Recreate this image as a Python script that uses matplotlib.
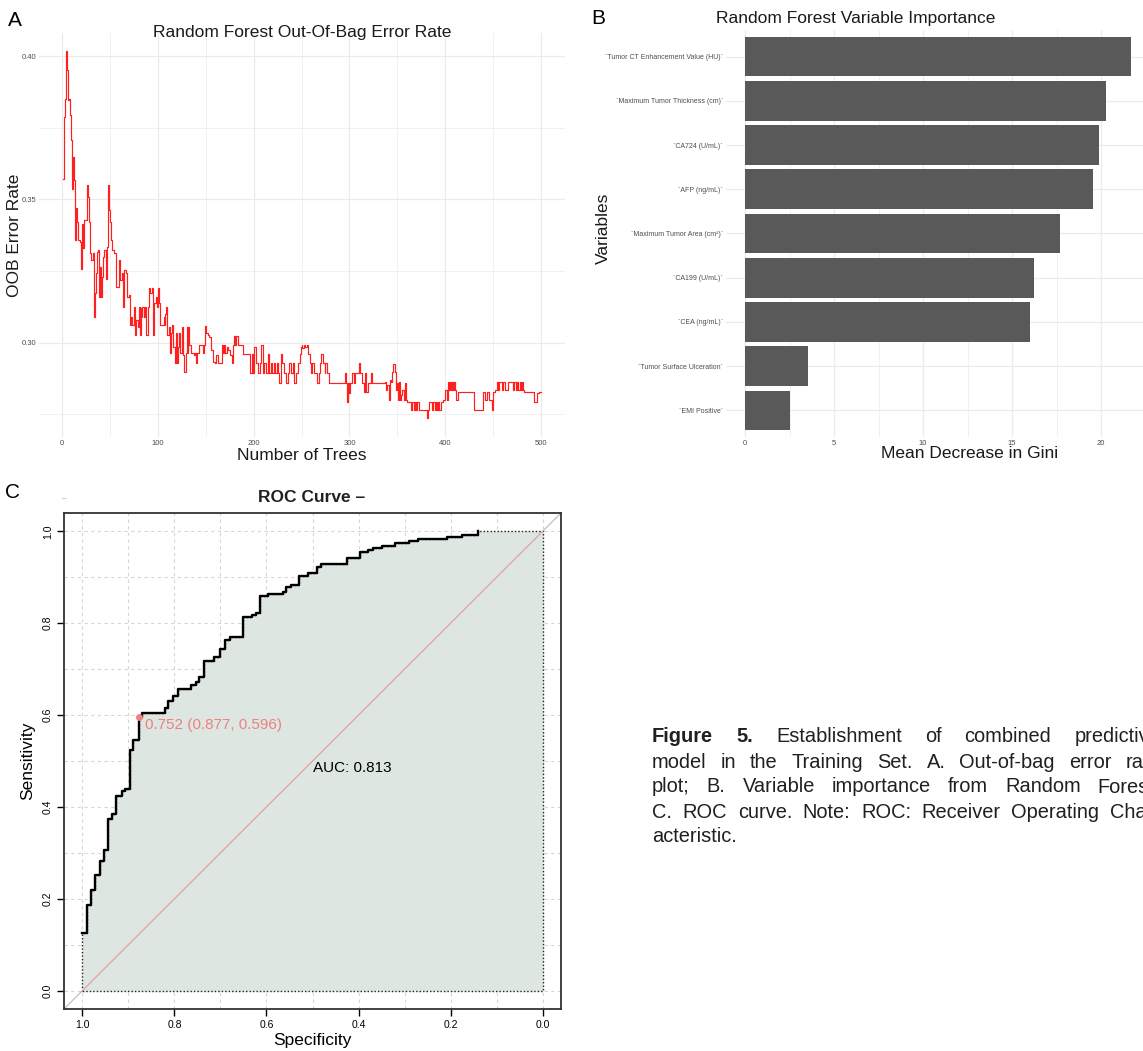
import numpy as np
import matplotlib
matplotlib.use("Agg")
import matplotlib.pyplot as plt

plt.rcParams['font.family'] = ['Liberation Sans', 'DejaVu Sans']

# A. out-of-bag error rate (tree number, error)
oob_trees = [1, 2, 3, 4, 5, 6, 7, 8, 9, 10, 11, 12, 13, 14, 15, 16, 17, 19, 20, 21,
             22, 23, 24, 26, 27, 28, 29, 30, 32, 33, 34, 36, 37, 38, 39, 40, 41, 42, 43, 44,
             46, 47, 48, 49, 50, 51, 52, 53, 54, 56, 58, 59, 60, 61, 63, 64, 65, 67, 68, 70,
             71, 72, 73, 75, 76, 77, 79, 80, 81, 82, 83, 84, 86, 87, 88, 90, 91, 92, 94, 95,
             96, 98, 99, 100, 101, 102, 104, 106, 107, 108, 109, 110, 112, 113, 114, 115, 116, 118, 119, 120,
             121, 122, 123, 125, 126, 127, 129, 130, 131, 132, 133, 135, 136, 138, 139, 140, 141, 143, 145, 147,
             148, 149, 150, 152, 153, 156, 158, 160, 161, 163, 165, 167, 168, 169, 170, 172, 173, 175, 177, 179,
             180, 181, 182, 184, 187, 189, 194, 196, 198, 199, 200, 202, 203, 205, 207, 208, 210, 211, 213, 215,
             216, 218, 219, 221, 222, 224, 225, 227, 229, 230, 232, 234, 236, 237, 239, 241, 242, 244, 246, 248,
             249, 250, 251, 253, 254, 256, 257, 259, 260, 261, 263, 265, 266, 268, 269, 270, 272, 274, 275, 277,
             279, 294, 295, 296, 297, 298, 300, 301, 303, 305, 306, 308, 310, 311, 313, 315, 316, 317, 319, 321,
             322, 324, 337, 338, 339, 341, 342, 343, 344, 346, 347, 348, 349, 350, 351, 352, 353, 354, 355, 357,
             358, 359, 360, 363, 364, 365, 367, 368, 369, 371, 373, 375, 380, 381, 382, 383, 384, 386, 387, 389,
             390, 391, 392, 394, 396, 398, 399, 400, 402, 403, 404, 405, 406, 407, 408, 409, 410, 411, 412, 413,
             429, 430, 437, 439, 441, 442, 444, 446, 448, 449, 450, 452, 454, 455, 456, 458, 459, 460, 462, 464,
             465, 470, 471, 472, 474, 475, 476, 478, 479, 480, 481, 482, 492, 493, 495, 496, 498, 500]
oob_error = [0.3573, 0.3788, 0.3850, 0.4017, 0.3951, 0.3847, 0.3852, 0.3794, 0.3707, 0.3538,
             0.3637, 0.3649, 0.3567, 0.3358, 0.3469, 0.3422, 0.3358, 0.3352, 0.3259, 0.3416,
             0.3329, 0.3428, 0.3428, 0.3550, 0.3509, 0.3422, 0.3312, 0.3288, 0.3312, 0.3091,
             0.3172, 0.3242, 0.3317, 0.3323, 0.3160, 0.3265, 0.3160, 0.3230, 0.3300, 0.3323,
             0.3224, 0.3335, 0.3550, 0.3463, 0.3422, 0.3358, 0.3323, 0.3323, 0.3312, 0.3195,
             0.3195, 0.3265, 0.3288, 0.3219, 0.3242, 0.3126, 0.3253, 0.3242, 0.3160, 0.3166,
             0.3062, 0.3091, 0.3062, 0.3126, 0.3027, 0.3079, 0.3056, 0.3126, 0.3027, 0.3120,
             0.3091, 0.3126, 0.3091, 0.3126, 0.3027, 0.3126, 0.3190, 0.3172, 0.3190, 0.3027,
             0.3137, 0.3160, 0.3126, 0.3190, 0.3137, 0.3062, 0.3062, 0.3091, 0.3062, 0.3102,
             0.3126, 0.3027, 0.3056, 0.2963, 0.3033, 0.3062, 0.2986, 0.2928, 0.3033, 0.2928,
             0.2986, 0.3033, 0.2963, 0.3056, 0.2957, 0.2899, 0.2963, 0.3056, 0.2963, 0.3056,
             0.2992, 0.2963, 0.2963, 0.2957, 0.2963, 0.2928, 0.2963, 0.2992, 0.2992, 0.2963,
             0.2992, 0.3058, 0.3033, 0.3027, 0.3021, 0.2974, 0.2934, 0.2928, 0.2957, 0.2928,
             0.2928, 0.2992, 0.2963, 0.2992, 0.2963, 0.2986, 0.2974, 0.2957, 0.2928, 0.2992,
             0.3023, 0.2992, 0.3023, 0.2992, 0.2992, 0.2960, 0.2960, 0.2895, 0.2960, 0.2895,
             0.2986, 0.2960, 0.2928, 0.2895, 0.2928, 0.2992, 0.2895, 0.2928, 0.2895, 0.2960,
             0.2895, 0.2928, 0.2895, 0.2928, 0.2895, 0.2928, 0.2895, 0.2860, 0.2960, 0.2928,
             0.2895, 0.2860, 0.2895, 0.2928, 0.2895, 0.2928, 0.2860, 0.2895, 0.2928, 0.2960,
             0.2986, 0.2992, 0.2980, 0.2992, 0.2986, 0.2992, 0.2960, 0.2928, 0.2895, 0.2928,
             0.2895, 0.2895, 0.2860, 0.2895, 0.2928, 0.2960, 0.2928, 0.2895, 0.2928, 0.2893,
             0.2860, 0.2860, 0.2893, 0.2860, 0.2794, 0.2860, 0.2823, 0.2860, 0.2893, 0.2860,
             0.2893, 0.2893, 0.2928, 0.2893, 0.2860, 0.2829, 0.2893, 0.2829, 0.2860, 0.2860,
             0.2893, 0.2860, 0.2863, 0.2835, 0.2852, 0.2800, 0.2869, 0.2863, 0.2898, 0.2927,
             0.2927, 0.2898, 0.2835, 0.2858, 0.2800, 0.2863, 0.2800, 0.2817, 0.2835, 0.2800,
             0.2858, 0.2800, 0.2794, 0.2794, 0.2765, 0.2794, 0.2765, 0.2794, 0.2765, 0.2794,
             0.2765, 0.2765, 0.2765, 0.2736, 0.2765, 0.2794, 0.2794, 0.2765, 0.2794, 0.2765,
             0.2794, 0.2765, 0.2794, 0.2765, 0.2794, 0.2800, 0.2800, 0.2835, 0.2800, 0.2863,
             0.2835, 0.2863, 0.2835, 0.2863, 0.2835, 0.2863, 0.2835, 0.2800, 0.2800, 0.2829,
             0.2829, 0.2765, 0.2765, 0.2829, 0.2829, 0.2800, 0.2829, 0.2800, 0.2800, 0.2765,
             0.2829, 0.2835, 0.2863, 0.2835, 0.2863, 0.2863, 0.2835, 0.2863, 0.2835, 0.2835,
             0.2863, 0.2863, 0.2835, 0.2863, 0.2835, 0.2863, 0.2835, 0.2863, 0.2835, 0.2863,
             0.2835, 0.2829, 0.2829, 0.2794, 0.2794, 0.2823, 0.2829, 0.2829]

# B. variable importance (top to bottom)
var_names = ["`Tumor CT Enhancement Value (HU)`", "`Maximum Tumor Thickness (cm)`",
             "`CA724 (U/mL)`", "`AFP (ng/mL)`", "`Maximum Tumor Area (cm\u00b2)`",
             "`CA199 (U/mL)`", "`CEA (ng/mL)`", "`Tumor Surface Ulceration`", "`EMI Positive`"]
var_gini = [21.7, 20.28, 19.88, 19.53, 17.71, 16.26, 16.03, 3.54, 2.53]

# C. ROC curve corners (specificity, sensitivity)
roc_spec = [1.000, 0.990, 0.982, 0.972, 0.962, 0.953, 0.944, 0.935, 0.926, 0.915,
            0.907, 0.897, 0.889, 0.877, 0.871, 0.821, 0.813, 0.803, 0.793, 0.764,
            0.754, 0.746, 0.736, 0.714, 0.700, 0.690, 0.680, 0.651, 0.631, 0.623,
            0.613, 0.597, 0.565, 0.557, 0.547, 0.529, 0.509, 0.491, 0.481, 0.426,
            0.396, 0.380, 0.368, 0.350, 0.320, 0.290, 0.271, 0.207, 0.176, 0.140]
roc_sens = [0.125, 0.186, 0.220, 0.252, 0.283, 0.306, 0.373, 0.384, 0.424, 0.434,
            0.440, 0.525, 0.545, 0.596, 0.604, 0.616, 0.630, 0.641, 0.656, 0.666,
            0.673, 0.683, 0.717, 0.727, 0.743, 0.764, 0.769, 0.813, 0.818, 0.823,
            0.859, 0.864, 0.869, 0.879, 0.884, 0.903, 0.909, 0.923, 0.929, 0.941,
            0.954, 0.960, 0.964, 0.969, 0.974, 0.979, 0.984, 0.988, 0.993, 1.000]
best_thr, best_spec, best_sens = 0.752, 0.877, 0.596
auc_value = 0.813

caption_lines = [
    ["Figure", "5.", "Establishment", "of", "combined", "predictive"],
    "model in the Training Set. A. Out-of-bag error rate".split(),
    "plot; B. Variable importance from Random Forest;".split(),
    "C. ROC curve. Note: ROC: Receiver Operating Char-".split(),
    ["acteristic."],
]

W, H = 1143, 1051
fig = plt.figure(figsize=(W / 100, H / 100), dpi=100)


def px_axes(left, top, right, bottom):
    return fig.add_axes([left / W, 1 - bottom / H, (right - left) / W, (bottom - top) / H])


def ftext(x, y, s, **kw):
    return fig.text(x / W, 1 - y / H, s, **kw)


def minimal(ax):
    for sp in ax.spines.values():
        sp.set_visible(False)
    ax.set_axisbelow(True)
    ax.grid(which='major', color='#ebebeb', lw=0.9)
    ax.grid(which='minor', color='#ebebeb', lw=0.5)
    ax.tick_params(which='both', length=0, labelcolor='#4d4d4d', pad=2)


grey_txt = '#1a1a1a'

# ---------------- A ----------------
ax1 = px_axes(39, 33, 565, 437)
ax1.plot(oob_trees, oob_error, color='#ff1f1f', lw=0.85, drawstyle='steps-post')
ax1.set_xlim(-24, 525)
ax1.set_ylim(0.2671, 0.4081)
ax1.set_xticks([0, 100, 200, 300, 400, 500])
ax1.set_xticks([50, 150, 250, 350, 450], minor=True)
ax1.set_yticks([0.30, 0.35, 0.40])
ax1.set_yticklabels(['0.30', '0.35', '0.40'])
ax1.set_yticks([0.275, 0.325, 0.375], minor=True)
minimal(ax1)
ax1.tick_params(labelsize=5.5)
ftext(302, 32, 'Random Forest Out-Of-Bag Error Rate', ha='center', va='center',
      fontsize=12.5, color=grey_txt)
ftext(302, 455, 'Number of Trees', ha='center', va='center', fontsize=12.5, color=grey_txt)
ftext(15, 235, 'OOB Error Rate', ha='center', va='center', rotation=90,
      fontsize=12.5, color=grey_txt)
ftext(15, 20, 'A', ha='center', va='center', fontsize=15)

# ---------------- B ----------------
ax2 = px_axes(725.7, 30, 1150.6, 437)
pos = np.arange(len(var_names), 0, -1)
ax2.barh(pos, var_gini, height=0.9, color='#595959')
ax2.set_xlim(-1.085, 22.785)
ax2.set_ylim(0.4, 9.6)
ax2.set_yticks(pos)
ax2.set_yticklabels(var_names)
ax2.set_xticks([0, 5, 10, 15, 20])
ax2.set_xticks([2.5, 7.5, 12.5, 17.5], minor=True)
minimal(ax2)
ax2.tick_params(axis='y', labelsize=5.0)
ax2.tick_params(axis='x', labelsize=5.5)
ftext(716, 18, 'Random Forest Variable Importance', ha='left', va='center',
      fontsize=12.5, color=grey_txt)
ftext(970, 454, 'Mean Decrease in Gini', ha='center', va='center', fontsize=12.5, color=grey_txt)
ftext(603, 228, 'Variables', ha='center', va='center', rotation=90,
      fontsize=12.5, color=grey_txt)
ftext(598, 18, 'B', ha='center', va='center', fontsize=15)

# ---------------- C ----------------
ax3 = px_axes(64, 513, 561, 1009)
ax3.set_xlim(1.04, -0.04)
ax3.set_ylim(-0.04, 1.04)
for v in np.linspace(0, 1, 11):
    ax3.axvline(v, color='#d6d6d6', lw=0.8, ls=(0, (3, 3)), zorder=0)
    ax3.axhline(v, color='#d6d6d6', lw=0.8, ls=(0, (3, 3)), zorder=0)

sx = np.repeat(roc_spec, 2)[1:]
sy = np.repeat(roc_sens, 2)[:-1]
poly_x = np.concatenate([[roc_spec[0]], sx, [0.0, 0.0]])
poly_y = np.concatenate([[0.0], sy, [1.0, 0.0]])
ax3.fill(poly_x, poly_y, facecolor='#dde6e1', edgecolor='#222222', ls=(0, (1, 1.5)),
         lw=1.0, zorder=1)
ax3.plot([1.04, -0.04], [-0.04, 1.04], color='#b8b8b8', lw=0.8, zorder=2)
ax3.plot([1, 0], [0, 1], color='#f2a5a5', lw=0.8, zorder=2)
ax3.plot(roc_spec, roc_sens, color='black', lw=1.7, drawstyle='steps-post', zorder=3)
ax3.plot([best_spec], [best_sens], 'o', color='#f08080', ms=4, zorder=4)
ax3.text(best_spec - 0.012, best_sens - 0.018,
         f'{best_thr:.3f} ({best_spec:.3f}, {best_sens:.3f})',
         color='#f08080', fontsize=11, ha='left', va='center', zorder=4)
ax3.text(0.5, 0.485, f'AUC: {auc_value:.3f}', color='black', fontsize=11,
         ha='left', va='center', zorder=4)

ticks = [1.0, 0.8, 0.6, 0.4, 0.2, 0.0]
ax3.set_xticks(ticks)
ax3.set_xticklabels([f'{t:.1f}' for t in ticks])
ax3.set_yticks(ticks)
ax3.set_yticklabels([f'{t:.1f}' for t in ticks], rotation=90, va='center')
ax3.tick_params(length=5, width=1, labelsize=7.5, pad=3)
for sp in ax3.spines.values():
    sp.set_linewidth(1.3)
    sp.set_color('#333333')
ftext(312, 497, 'ROC Curve \u2013', ha='center', va='center', fontsize=12.5,
      fontweight='bold', color='#222222')
ftext(312, 1040, 'Specificity', ha='center', va='center', fontsize=12.5)
ftext(28, 761, 'Sensitivity', ha='center', va='center', rotation=90, fontsize=12.5)
ftext(64, 499, '\u2013', ha='center', va='center', fontsize=6, color='#999999')
ftext(13, 493, 'C', ha='center', va='center', fontsize=15)

# ---------------- caption (justified, runs off the right edge like the source) ----------------
renderer = fig.canvas.get_renderer()
x0, x1 = 652, 1160
line_y = [735, 760, 785, 810, 835]
for i, words in enumerate(caption_lines):
    texts = []
    for j, w in enumerate(words):
        bold = (i == 0 and j < 2)
        texts.append(ftext(0, line_y[i], w, ha='left', va='center_baseline',
                           fontsize=14.4, color='#231f20',
                           fontweight='bold' if bold else 'normal'))
    widths = [t.get_window_extent(renderer).width for t in texts]
    if len(words) > 1 and i < len(caption_lines) - 1:
        gap = (x1 - x0 - sum(widths)) / (len(words) - 1)
    else:
        gap = 0
    x = x0
    for t, wd in zip(texts, widths):
        t.set_x(x / W)
        x += wd + gap

fig.savefig('out.png', dpi=100)
